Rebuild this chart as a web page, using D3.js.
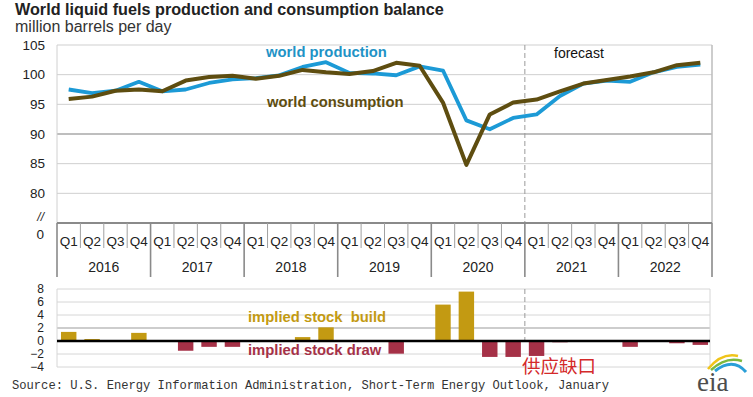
<!DOCTYPE html>
<html>
<head>
<meta charset="utf-8">
<script src="https://cdn.jsdelivr.net/npm/d3@7"></script>
<style>
  body { margin: 0; background: #fff; }
  text { font-family: "Liberation Sans", Arial, sans-serif; }
</style>
</head>
<body>
<svg id="chart" width="753" height="397"></svg>
<script>
// quarters 2016 Q1 .. 2022 Q4
var years = ['2016', '2017', '2018', '2019', '2020', '2021', '2022'];
var quarterNames = ['Q1', 'Q2', 'Q3', 'Q4'];
var production = [97.5, 96.9, 97.3, 98.8, 97.2, 97.5, 98.6, 99.2, 99.4, 99.9, 101.3, 102.1,
                  100.3, 100.2, 99.9, 101.4, 100.7, 92.3, 90.8, 92.7, 93.3, 96.4, 98.5, 99.0,
                  98.8, 100.4, 101.3, 101.7];
var consumption = [95.9, 96.3, 97.3, 97.5, 97.2, 99.0, 99.6, 99.8, 99.3, 99.8, 100.8, 100.4,
                   100.1, 100.6, 102.0, 101.5, 95.3, 84.8, 93.3, 95.3, 95.8, 97.2, 98.5, 99.1,
                   99.7, 100.4, 101.6, 102.0];
var stockChange = [1.4, 0.3, 0, 1.25, 0, -1.5, -0.9, -0.9, 0, 0, 0.6, 2.1,
                   0, -0.15, -1.95, 0, 5.6, 7.6, -2.45, -2.45, -2.3, -0.2, 0, 0,
                   -0.9, 0, -0.35, -0.6];
var topTicks = [80, 85, 90, 95, 100, 105];
var barTicks = [-4, -2, 0, 2, 4, 6, 8];
var forecastStart = 20; // 2021 Q1

var quarters = [];
years.forEach(function (y) {
    quarterNames.forEach(function (q) { quarters.push(y + q); });
});

var svg = d3.select('#chart');

var x = d3.scaleBand().domain(quarters).range([57, 712]);
var cx = function (i) { return x(quarters[i]) + x.bandwidth() / 2; };
var y = d3.scaleLinear().domain([75, 105]).range([223, 45]);
var yb = d3.scaleLinear().domain([-4, 8]).range([367, 289]);

// title
svg.append('text').attr('x', 15).attr('y', 15)
    .attr('font-size', 16.2).attr('font-weight', 'bold').attr('fill', '#222')
    .text('World liquid fuels production and consumption balance');
svg.append('text').attr('x', 15).attr('y', 32)
    .attr('font-size', 16).attr('fill', '#333')
    .text('million barrels per day');

// top plot grid
var topG = svg.append('g');
topG.selectAll('line.grid')
    .data(topTicks)
    .enter()
    .append('line')
    .attr('x1', 57).attr('x2', 712)
    .attr('y1', function (d) { return y(d); })
    .attr('y2', function (d) { return y(d); })
    .attr('stroke', function (d) { return d === 90 ? '#a9a9a9' : '#cfcfcf'; })
    .attr('stroke-width', function (d) { return d === 90 ? 1.6 : 1; });
topG.append('line').attr('x1', 57).attr('x2', 57).attr('y1', 45).attr('y2', 223).attr('stroke', '#d0d0d0');
topG.append('line').attr('x1', 712).attr('x2', 712).attr('y1', 45).attr('y2', 223).attr('stroke', '#bdbdbd').attr('stroke-width', 1.5);

var yAxis = d3.axisLeft(y).tickValues(topTicks).tickSize(0).tickPadding(12);
var ya = svg.append('g').attr('transform', 'translate(57,0)').call(yAxis);
ya.select('.domain').remove();
ya.selectAll('text').attr('font-size', 13.5).attr('fill', '#222')
    .style('font-family', '"Liberation Sans", Arial, sans-serif');
svg.append('text').attr('x', 44).attr('y', 221).attr('text-anchor', 'end')
    .attr('font-size', 12).attr('font-style', 'italic').attr('fill', '#222').text('//');
svg.append('text').attr('x', 44).attr('y', 239).attr('text-anchor', 'end')
    .attr('font-size', 13.5).attr('fill', '#222').text('0');

// forecast divider
svg.append('line')
    .attr('x1', x(quarters[forecastStart])).attr('x2', x(quarters[forecastStart]))
    .attr('y1', 45).attr('y2', 223)
    .attr('stroke', '#9a9a9a').attr('stroke-dasharray', '5,3');
svg.append('text').attr('x', 554).attr('y', 58).attr('font-size', 14).attr('fill', '#111').text('forecast');

// lines
var line = function (vals) {
    return d3.line()
        .x(function (d, i) { return cx(i); })
        .y(function (d) { return y(d); })(vals);
};
svg.append('path').attr('d', line(production)).attr('fill', 'none')
    .attr('stroke', '#1c9ad6').attr('stroke-width', 3.8).attr('stroke-linejoin', 'round');
svg.append('path').attr('d', line(consumption)).attr('fill', 'none')
    .attr('stroke', '#5e4d10').attr('stroke-width', 4).attr('stroke-linejoin', 'round');

svg.append('text').attr('x', 266).attr('y', 57).attr('font-size', 14.8).attr('font-weight', 'bold')
    .attr('fill', '#1f93c6').text('world production');
svg.append('text').attr('x', 267).attr('y', 107).attr('font-size', 14.8).attr('font-weight', 'bold')
    .attr('fill', '#5e4d10').text('world consumption');

// category axis
svg.append('line').attr('x1', 57).attr('x2', 712).attr('y1', 223).attr('y2', 223)
    .attr('stroke', '#8a8a8a').attr('stroke-width', 2);
var bounds = d3.range(quarters.length + 1);
svg.selectAll('line.sep')
    .data(bounds)
    .enter()
    .append('line')
    .attr('x1', function (i) { return i < quarters.length ? x(quarters[i]) : 712; })
    .attr('x2', function (i) { return i < quarters.length ? x(quarters[i]) : 712; })
    .attr('y1', 223)
    .attr('y2', function (i) { return i % 4 === 0 ? 277 : 248; })
    .attr('stroke', function (i) { return i % 4 === 0 ? '#8a8a8a' : '#a0a0a0'; })
    .attr('stroke-width', function (i) { return i % 4 === 0 ? 1.6 : 1; });
svg.selectAll('text.q')
    .data(quarters)
    .enter()
    .append('text')
    .attr('x', function (d, i) { return cx(i); })
    .attr('y', 246)
    .attr('text-anchor', 'middle')
    .attr('font-size', 13.5).attr('fill', '#222')
    .text(function (d) { return d.slice(4); });
svg.selectAll('text.yr')
    .data(years)
    .enter()
    .append('text')
    .attr('x', function (d) { return (x(d + 'Q1') + x(d + 'Q4') + x.bandwidth()) / 2; })
    .attr('y', 272)
    .attr('text-anchor', 'middle')
    .attr('font-size', 14).attr('fill', '#222')
    .text(function (d) { return d; });

// bar chart
var bars = svg.append('g');
bars.selectAll('line.bgrid')
    .data(barTicks.filter(function (d) { return d !== 0; }))
    .enter()
    .append('line')
    .attr('x1', 57).attr('x2', 710)
    .attr('y1', function (d) { return yb(d); })
    .attr('y2', function (d) { return yb(d); })
    .attr('stroke', function (d) { return d === 2 ? '#bdbdbd' : '#d6d6d6'; })
    .attr('stroke-width', function (d) { return d === 2 ? 1.6 : 1; });
bars.append('line').attr('x1', 57).attr('x2', 57).attr('y1', 289).attr('y2', 367).attr('stroke', '#d6d6d6');
bars.append('line').attr('x1', 710).attr('x2', 710).attr('y1', 289).attr('y2', 367).attr('stroke', '#d6d6d6');

var bw = x.bandwidth() * 0.66;
bars.selectAll('rect')
    .data(stockChange)
    .enter()
    .append('rect')
    .attr('x', function (d, i) { return cx(i) - bw / 2; })
    .attr('width', bw)
    .attr('y', function (d) { return yb(Math.max(0, d)); })
    .attr('height', function (d) { return Math.abs(yb(d) - yb(0)); })
    .attr('fill', function (d) { return d >= 0 ? '#c39a12' : '#a53147'; });

bars.append('line')
    .attr('x1', x(quarters[forecastStart])).attr('x2', x(quarters[forecastStart]))
    .attr('y1', 289).attr('y2', 341)
    .attr('stroke', '#9a9a9a').attr('stroke-dasharray', '5,3');
bars.append('line').attr('x1', 57).attr('x2', 710).attr('y1', yb(0)).attr('y2', yb(0))
    .attr('stroke', '#000').attr('stroke-width', 2.5);

var ybAxis = d3.axisLeft(yb).tickValues(barTicks).tickSize(0).tickPadding(12);
var yba = svg.append('g').attr('transform', 'translate(56,0)').call(ybAxis);
yba.select('.domain').remove();
yba.selectAll('text').attr('font-size', 12).attr('fill', '#222')
    .style('font-family', '"Liberation Sans", Arial, sans-serif');

svg.append('text').attr('x', 248).attr('y', 322).attr('font-size', 14.8).attr('font-weight', 'bold')
    .attr('fill', '#c39a12').attr('xml:space', 'preserve').text('implied stock  build');
svg.append('text').attr('x', 248).attr('y', 355).attr('font-size', 14.8).attr('font-weight', 'bold')
    .attr('fill', '#a53147').text('implied stock draw');

svg.append('text').attr('x', 522).attr('y', 373).attr('font-size', 18.5)
    .style('font-family', '"Noto Sans CJK SC", sans-serif')
    .attr('fill', '#d42a2a').text('供应缺口');

svg.append('text').attr('x', 12).attr('y', 389).attr('font-size', 13)
    .attr('textLength', 597).attr('lengthAdjust', 'spacingAndGlyphs')
    .style('font-family', '"Liberation Mono", monospace').attr('fill', '#333')
    .text('Source: U.S. Energy Information Administration, Short-Term Energy Outlook, January');

// eia logo
var logo = svg.append('g');
logo.append('path').attr('d', 'M708,369 Q722,352 738,356').attr('fill', 'none').attr('stroke', '#f0c419').attr('stroke-width', 2.5);
logo.append('path').attr('d', 'M711,370 Q726,356 742,361').attr('fill', 'none').attr('stroke', '#7cb93e').attr('stroke-width', 2.5);
logo.append('path').attr('d', 'M715,371 Q733,357 746,372').attr('fill', 'none').attr('stroke', '#2a9fd8').attr('stroke-width', 3);
logo.append('text').attr('x', 697).attr('y', 391).attr('font-size', 27)
    .style('font-family', '"Liberation Serif", serif').attr('fill', '#4d4d4d').text('eia');
</script>
</body>
</html>
